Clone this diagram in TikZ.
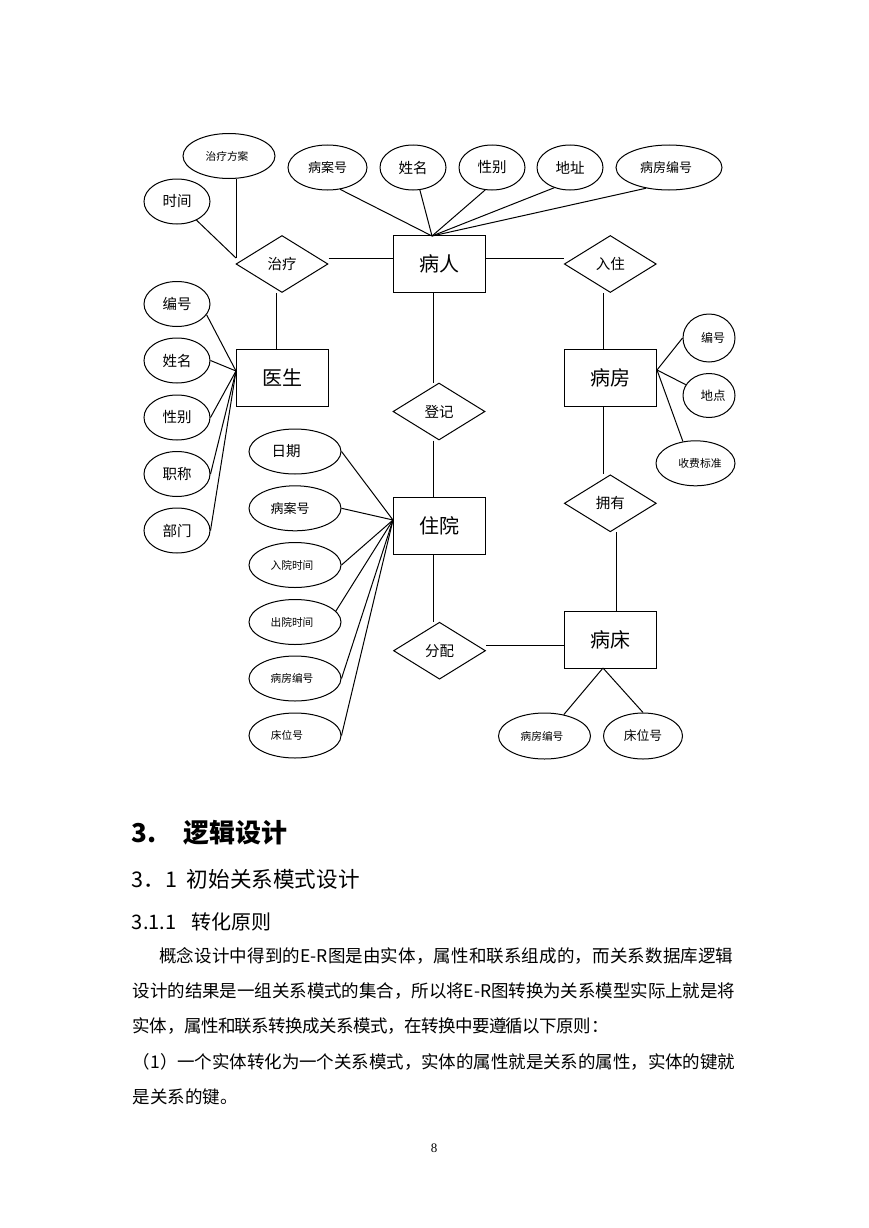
\documentclass[tikz,border=0pt]{standalone}
\usepackage{fontspec}
\usetikzlibrary{shapes.geometric,calc}
\newfontfamily\cjk{Noto Sans CJK SC}
\newfontfamily\numfont{Liberation Serif}
\XeTeXlinebreaklocale "zh"
\XeTeXlinebreakskip = 0pt plus 3pt minus 1pt
\tikzset{
  ent/.style={draw, line width=1pt, rectangle, minimum width=92pt, minimum height=57pt, inner sep=0pt, font=\cjk\fontsize{20}{20}\selectfont},
  rel/.style={draw, line width=1pt, diamond, minimum width=92pt, minimum height=57pt, inner sep=0pt, font=\cjk\fontsize{14.5}{14.5}\selectfont},
  attr/.style={draw, line width=1pt, ellipse, inner sep=0pt},
  attrtext/.style={inner sep=0pt},
  conn/.style={line width=1pt},
  htext/.style={anchor=base west, inner sep=0pt},
  bodyline/.style={anchor=base west, inner sep=0pt, font=\cjk\fontsize{17.5}{17.5}\selectfont},
}
\newcommand\erattr[8]{%
  \node[attr, minimum width=#4pt, minimum height=#5pt] (#1) at (#2,#3) {};
  \node[attrtext, font=\cjk\fontsize{#6}{#6}\selectfont, xshift=#7pt] (#1t) at (#1) {#8};}
\begin{document}
\begin{tikzpicture}[x=1pt,y=-1pt]
\fill[white] (0,0) rectangle (869,1228);
\useasboundingbox (0,0) rectangle (869,1228);

% entities
\node[ent] (P) at (439,264) {病人};
\node[ent] (D) at (282,377.5) {医生};
\node[ent] (F) at (610.3,378) {病房};
\node[ent] (Z) at (439,525.5) {住院};
\node[ent] (B) at (610.3,639.5) {病床};

% relationships
\node[rel] (R1) at (282,264) {治疗};
\node[rel] (R2) at (610.3,264) {入住};
\node[rel] (R3) at (439,411.5) {登记};
\node[rel] (R4) at (610.3,503.3) {拥有};
\node[rel] (R5) at (439.5,650.7) {分配};

% attributes
\erattr{tA}{229}{156}{92}{45}{10.7}{-2}{治疗方案}
\erattr{tB}{177}{201.5}{66}{45}{14.5}{0}{时间}
\erattr{pA}{327.5}{167.5}{79}{45}{13}{0}{病案号}
\erattr{pB}{413}{167.5}{66}{45}{14.5}{0}{姓名}
\erattr{pC}{492}{167.5}{66}{45}{14.5}{0}{性别}
\erattr{pD}{570}{167.5}{66}{45}{14.5}{0}{地址}
\erattr{pE}{669}{167.5}{106}{45}{13}{-3}{病房编号}

\erattr{d1}{177}{304}{66}{45}{14.5}{0}{编号}
\erattr{d2}{177}{360.5}{66}{45}{14.5}{0}{姓名}
\erattr{d3}{177}{417.5}{66}{45}{14.5}{0}{性别}
\erattr{d4}{177}{474}{66}{45}{14.5}{0}{职称}
\erattr{d5}{177}{530.5}{66}{45}{14.5}{0}{部门}

\erattr{z1}{295}{451.5}{92}{45}{14.5}{-9}{日期}
\erattr{z2}{295}{508.3}{92}{45}{13}{-5}{病案号}
\erattr{z3}{295}{565}{92}{45}{10.7}{-3}{入院时间}
\erattr{z4}{295}{622}{92}{45}{10.7}{-3}{出院时间}
\erattr{z5}{295}{678.5}{92}{45}{10.7}{-3}{病房编号}
\erattr{z6}{295}{735.5}{92}{45}{10.7}{-8}{床位号}

\erattr{f1}{709}{338}{52}{48}{12}{4}{编号}
\erattr{f2}{709}{395.5}{52}{44}{12.5}{4}{地点}
\erattr{f3}{695.5}{463.3}{79}{45}{10.8}{4.5}{收费标准}

\erattr{b1}{544.5}{736}{92}{46}{10.7}{-2.5}{病房编号}
\erattr{b2}{643}{736}{79}{46}{12.8}{0}{床位号}

% convergence points
\coordinate (cP) at (432,236);
\coordinate (cT) at (236,258);
\coordinate (cD) at (236,371);
\coordinate (cZ) at (393,520);
\coordinate (cF) at (657,370);
\coordinate (cB) at (603,668);

% attribute connectors
\draw[conn] (tA.south -| cT) -- (cT);
\draw[conn] (tB) -- (cT);
\draw[conn] (pA.-60) -- (cP);
\draw[conn] (pB.-73) -- (cP);
\draw[conn] (pC.-107) -- (cP);
\draw[conn] (pD.-128) -- (cP);
\draw[conn] (pE.-138) -- (cP);
\draw[conn] (d1.-20) -- (cD);
\draw[conn] (d2.east) -- (cD);
\draw[conn] (d3.east) -- (cD);
\draw[conn] (d4.east) -- (cD);
\draw[conn] (d5.east) -- (cD);
\draw[conn] (z1.east) -- (cZ);
\draw[conn] (z2.east) -- (cZ);
\draw[conn] (z3.east) -- (cZ);
\draw[conn] (z4.15) -- (cZ);
\draw[conn] (z5.east) -- (cZ);
\draw[conn] (z6.east) -- (cZ);
\draw[conn] (f1.west) -- (cF);
\draw[conn] (f2.155) -- (cF);
\draw[conn] (f3.120) -- (cF);
\draw[conn] (b1.48) -- (cB);
\draw[conn] (b2.north) -- (cB);

% relationship connectors
\draw[conn] ([yshift=6pt]R1.east) -- ([yshift=6pt]R1.east -| P.west);
\draw[conn] ([xshift=-6pt]R1.south) -- ([xshift=-6pt]R1.south |- D.north);
\draw[conn] ([yshift=6pt]P.east) -- ([yshift=6pt]P.east -| R2.west);
\draw[conn] ([xshift=-6.5pt]R2.south) -- ([xshift=-6.5pt]R2.south |- F.north);
\draw[conn] ([xshift=-6pt]P.south) -- ([xshift=-6pt]P.south |- R3.north);
\draw[conn] ([xshift=-6pt]R3.south) -- ([xshift=-6pt]R3.south |- Z.north);
\draw[conn] ([xshift=-6pt]Z.south) -- ([xshift=-6pt]Z.south |- R5.north);
\draw[conn] ([yshift=5.5pt]R5.east) -- ([yshift=5.5pt]R5.east -| B.west);
\draw[conn] ([xshift=-6.5pt]F.south) -- ([xshift=-6.5pt]F.south |- R4.north);
\draw[conn] ([xshift=6.4pt]R4.south) -- ([xshift=6.4pt]R4.south |- B.north);

% headings
\node[htext, font=\cjk\bfseries\fontsize{26}{26}\selectfont] (h1n) at (131.7,842.9) {3.};
\node[htext, font=\cjk\bfseries\fontsize{26}{26}\selectfont] (h1t) at (183,842.9) {逻辑设计};
\node[htext, font=\cjk\fontsize{21.6}{21.6}\selectfont] (h2n) at (131.7,887.2) {3．1};
\node[htext, font=\cjk\fontsize{21.6}{21.6}\selectfont] (h2t) at (186.7,887.2) {初始关系模式设计};
\node[htext, font=\cjk\fontsize{20}{20}\selectfont] (h3n) at (131.7,929.6) {3.1.1};
\node[htext, font=\cjk\fontsize{20}{20}\selectfont] (h3t) at (191.7,929.6) {转化原则};

% body
\node[bodyline, text width=576pt] (l1) at (159,962.4) {\parindent=0pt\parfillskip=0pt 概念设计中得到的E-R图是由实体，属性和联系组成的，而关系数据库逻辑\par};
\node[bodyline, text width=602.3pt] (l2) at (132.7,997.4) {\parindent=0pt\parfillskip=0pt 设计的结果是一组关系模式的集合，所以将E-R图转换为关系模型实际上就是将\par};
\node[bodyline, text width=475.6pt] (l3) at (132.7,1032.7) {\parindent=0pt\parfillskip=0pt 实体，属性和联系转换成关系模式，在转换中要遵循以下原则：\par};
\node[bodyline, text width=602.3pt] (l4) at (132.7,1068.4) {\parindent=0pt\parfillskip=0pt （1）一个实体转化为一个关系模式，实体的属性就是关系的属性，实体的键就\par};
\node[bodyline] (l5) at (132.7,1103.4) {是关系的键。};

% page number
\node[inner sep=0pt, font=\numfont\fontsize{13}{13}\selectfont] (pg) at (434,1148) {8};
\end{tikzpicture}
\end{document}
